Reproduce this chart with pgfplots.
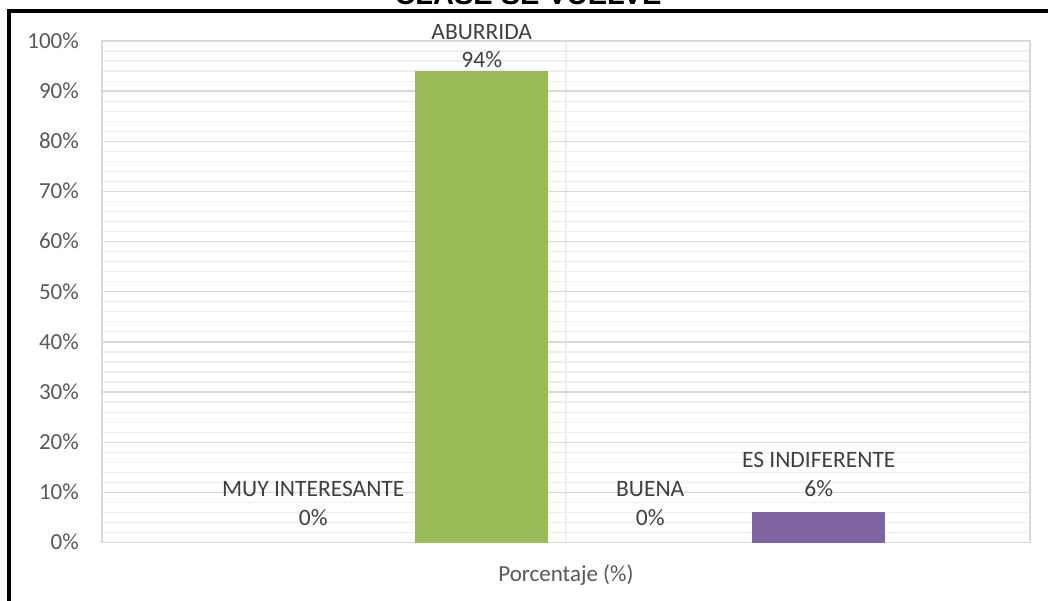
\documentclass[border=0pt]{standalone}
\usepackage{fontspec}
\setmainfont{Carlito}
\newfontfamily\arialfont{Liberation Sans}
\usepackage{pgfplots}
\pgfplotsset{compat=1.18}
\definecolor{cblue}{HTML}{4F81BD}
\definecolor{cred}{HTML}{C0504D}
\definecolor{cgreen}{HTML}{9BBB59}
\definecolor{cpurple}{HTML}{8064A2}
\definecolor{gridmaj}{HTML}{D9D9D9}
\definecolor{gridmin}{HTML}{EEEEEE}
\definecolor{labgray}{HTML}{595959}
\definecolor{datagray}{HTML}{404040}
\begin{document}
\begin{tikzpicture}
\useasboundingbox (0pt,-601pt) rectangle (1048pt,0pt);
\clip (0pt,-601pt) rectangle (1048pt,0pt);
\fill[white] (0pt,-601pt) rectangle (1048pt,0pt);
\draw[line width=4pt, black] (9.3pt,-650pt) -- (9.3pt,-11.3pt) -- (1100pt,-11.3pt);
\node[anchor=base, inner sep=0pt, font=\arialfont\bfseries\fontsize{29}{34}\selectfont] at (528pt,-5pt) {CLASE SE VUELVE};
\begin{axis}[
  at={(102pt,-542.5pt)}, anchor=south west,
  scale only axis, width=928pt, height=501.5pt,
  ybar=35.5pt, bar width=133pt,
  xmin=-0.5, xmax=0.5, ymin=0, ymax=100,
  xtick={0}, xticklabels={Porcentaje (\%)},
  ytick={0,10,...,100},
  yticklabels={0\%,10\%,20\%,30\%,40\%,50\%,60\%,70\%,80\%,90\%,100\%},
  minor y tick num=4,
  ymajorgrids, yminorgrids, xmajorgrids,
  major y grid style={draw=gridmaj, line width=1.3pt},
  minor y grid style={draw=gridmin, line width=1.2pt},
  major x grid style={draw=gridmin, line width=1.3pt},
  axis line style={draw=gridmaj, line width=1.3pt},
  major tick length=0pt, minor tick length=0pt,
  yticklabel style={anchor=base east, inner sep=0pt, xshift=-23pt, yshift=-7.3pt, font=\fontsize{23}{28}\selectfont, text=labgray},
  xticklabel style={anchor=base, inner sep=0pt, yshift=-39.2pt, font=\fontsize{23}{28}\selectfont, text=labgray},
  clip=false,
  /pgf/number format/assume math mode=true,
  every node near coord/.append style={anchor=south, inner sep=0pt, align=center, font=\fontsize{23.5}{28.3}\selectfont, text=datagray},
]
\addplot[fill=none, draw=none, nodes near coords={MUY INTERESANTE\\\pgfmathprintnumber{\pgfplotspointmeta}\%}, every node near coord/.append style={yshift=17pt}] coordinates {(0,0)};
\addplot[fill=cgreen, draw=none, nodes near coords={ABURRIDA\\\pgfmathprintnumber{\pgfplotspointmeta}\%}, every node near coord/.append style={yshift=3pt}] coordinates {(0,94)};
\addplot[fill=none, draw=none, nodes near coords={BUENA\\\pgfmathprintnumber{\pgfplotspointmeta}\%}, every node near coord/.append style={yshift=17pt}] coordinates {(0,0)};
\addplot[fill=cpurple, draw=none, nodes near coords={ES INDIFERENTE\\\pgfmathprintnumber{\pgfplotspointmeta}\%}, every node near coord/.append style={yshift=16pt}] coordinates {(0,6)};
\end{axis}
\end{tikzpicture}
\end{document}
